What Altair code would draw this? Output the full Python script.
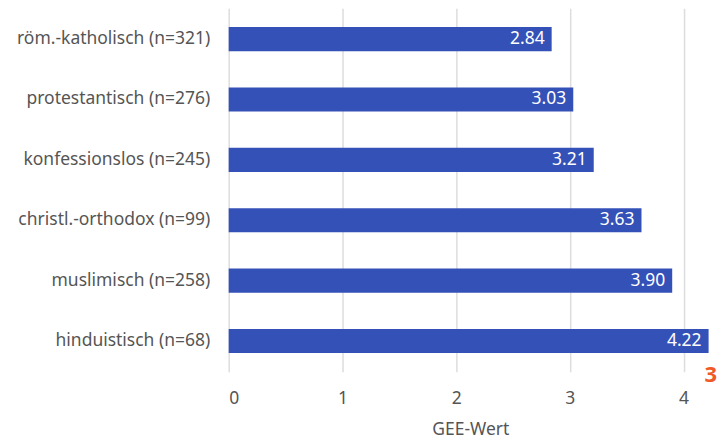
import altair as alt
import pandas as pd

categories = [
    "röm.-katholisch (n=321)",
    "protestantisch (n=276)",
    "konfessionslos (n=245)",
    "christl.-orthodox (n=99)",
    "muslimisch (n=258)",
    "hinduistisch (n=68)",
]
values = [2.84, 3.03, 3.21, 3.63, 3.90, 4.22]
labels = ["2.84", "3.03", "3.21", "3.63", "3.90", "4.22"]

df = pd.DataFrame({"cat": categories, "val": values, "lab": labels})

FONT = "Noto Sans"
BLUE = "#3451b8"
FS = 17.5

y_enc = alt.Y(
    "cat:N",
    sort=categories,
    title=None,
    scale=alt.Scale(paddingInner=0.6, paddingOuter=0.31),
    axis=alt.Axis(
        domain=False, ticks=False, labelPadding=19, labelFontSize=FS,
        labelColor="#555555", labelFont=FONT, grid=False, labelLimit=300,
        minExtent=216, maxExtent=216,
    ),
)
x_enc = alt.X(
    "val:Q",
    title="GEE-Wert",
    scale=alt.Scale(domain=[0, 4.25], nice=False),
    axis=alt.Axis(
        values=[0, 1, 2, 3, 4], format="d", domain=False, ticks=False,
        grid=True, gridColor="#dddddd", gridWidth=1.5,
        labelPadding=18, labelFontSize=FS, labelColor="#555555", labelFont=FONT,
        titleFontSize=FS, titleColor="#555555", titleFont=FONT,
        titleFontWeight="normal", titlePadding=13,
    ),
)

bars = alt.Chart(df).mark_bar(color=BLUE).encode(x=x_enc, y=y_enc)
text = alt.Chart(df).mark_text(
    align="right", baseline="middle", dx=-7, color="white", fontSize=FS, font=FONT
).encode(x="val:Q", y=alt.Y("cat:N", sort=categories), text="lab:N")

marker = alt.Chart(pd.DataFrame({"t": ["3"]})).mark_text(
    align="right", baseline="middle", color="#f05a28", fontSize=22, fontWeight="bold", font=FONT
).encode(x=alt.value(489), y=alt.value(367), text="t:N")

chart = alt.layer(bars, text, marker).properties(
    width=484, height=364,
    padding={"left": 5, "top": 0, "right": 0, "bottom": 5},
).configure_view(stroke=None)

chart.save("out.html", embed_options={"renderer": "svg", "actions": False})
